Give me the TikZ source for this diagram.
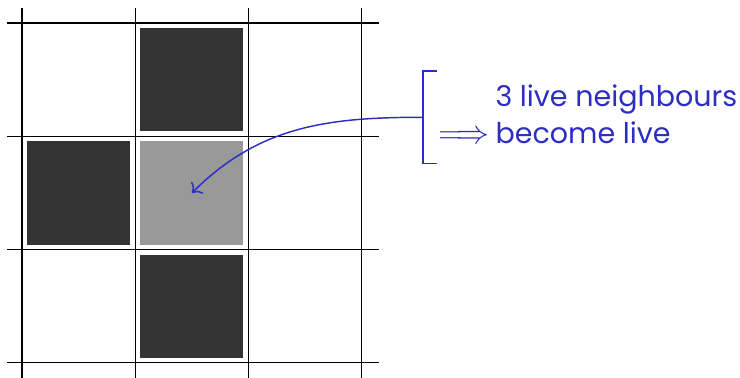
\documentclass[tikz,border=0pt]{standalone}
\usepackage{fontspec}
\usetikzlibrary{arrows.meta}
\newfontfamily\notefont{Poppins}
\definecolor{cellgray}{HTML}{333333}
\definecolor{bornlight}{HTML}{999999}
\definecolor{noteblue}{RGB}{45,45,195}
\tikzset{
  gridline/.style={line width=0.8pt},
  live/.style={fill=cellgray, draw=none, minimum size=2.73cm, inner sep=0pt},
  born/.style={fill=bornlight, draw=none, minimum size=2.73cm, inner sep=0pt},
  note/.style={noteblue, font=\notefont\fontsize{21.5}{24}\selectfont, anchor=base west, inner sep=0pt}
}
\begin{document}
\begin{tikzpicture}[x=3cm,y=3cm]
\useasboundingbox (-0.194,-0.132) rectangle (6.337,3.203);
\node[live] (top) at (1.5,2.5) {};
\node[live] (left) at (0.5,1.5) {};
\node[live] (bottom) at (1.5,0.5) {};
\node[born] (c) at (1.5,1.5) {};
\draw[gridline] (0,-0.133)--(0,3.133);
\draw[gridline] (1,-0.133)--(1,3.133);
\draw[gridline] (2,-0.133)--(2,3.133);
\draw[gridline] (3,-0.133)--(3,3.133);
\draw[gridline] (-0.133,0)--(3.15,0);
\draw[gridline] (-0.133,1)--(3.15,1);
\draw[gridline] (-0.133,2)--(3.15,2);
\draw[gridline] (-0.133,3)--(3.15,3);
\node[note] (l1) at (4.177,2.265) {3 live neighbours};
\node[note] (l2) at (4.177,1.938) {become live};
\node[noteblue, anchor=base east, inner sep=0pt, font=\fontsize{25}{28}\selectfont] (imp) at ([xshift=-4pt]l2.base west) {$\Longrightarrow$};
\coordinate (mid) at (3.54,2.168);
\draw[noteblue, line width=1.1pt] (3.664,2.575)--(3.54,2.575)--(3.54,1.761)--(3.664,1.761);
\draw[noteblue, line width=1.1pt, -{To[scale=1.5]}] (mid) to[out=180, in=45] (c.center);
\end{tikzpicture}
\end{document}
